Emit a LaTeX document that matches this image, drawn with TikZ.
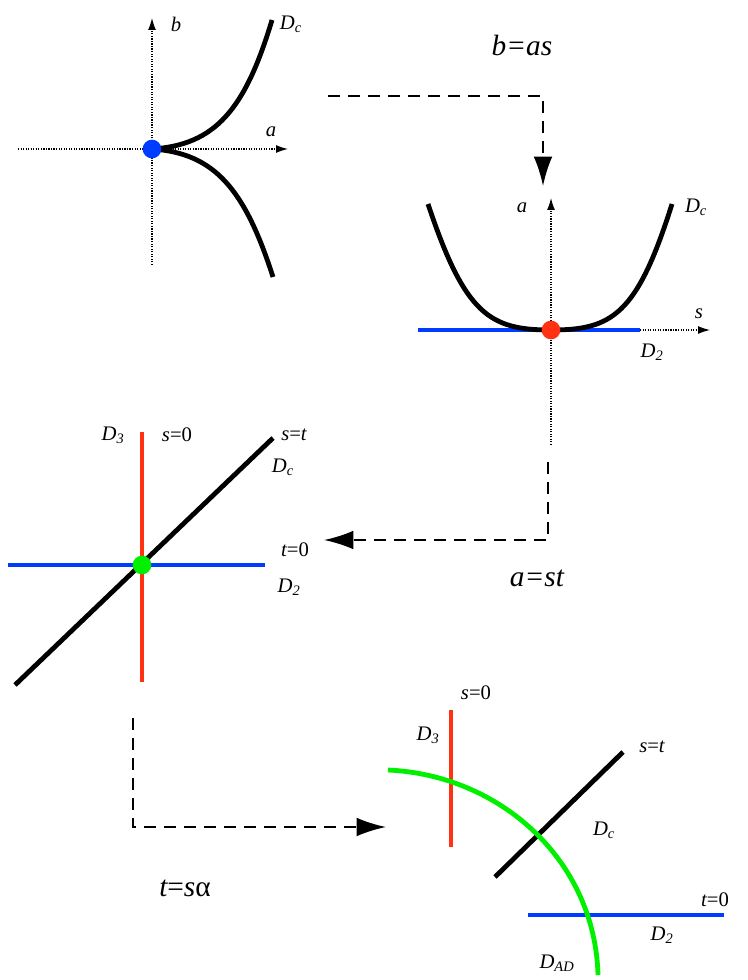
\documentclass[tikz,border=0pt]{standalone}
\usepackage{fontspec}
\setmainfont{Liberation Serif}
\usetikzlibrary{arrows.meta}
\begin{document}
\begin{tikzpicture}[x=0.75pt,y=-0.75pt,
 ax/.style={densely dotted,line width=0.9pt,-{Latex[length=9pt,width=6pt]}},
 cur/.style={line width=3.6pt},
 blu/.style={line width=3pt,draw={rgb,255:red,0;green,60;blue,255}},
 redl/.style={line width=3pt,draw={rgb,255:red,255;green,50;blue,20}},
 grn/.style={line width=3.6pt,draw={rgb,255:red,0;green,240;blue,0}},
 map/.style={dashed,dash pattern=on 9pt off 6pt,line width=1.5pt,-{Latex[length=22pt,width=14pt]}},
 lb/.style={font=\fontsize{15.5}{17}\selectfont\itshape,inner sep=1pt},
 big/.style={font=\fontsize{22}{24}\selectfont\itshape,inner sep=1pt},
 dot/.style={circle,inner sep=0pt,minimum size=14pt}]
\useasboundingbox (0,0) rectangle (747,980);
% panel 1
\coordinate (p1o) at (152,149);
\draw[ax] (152,265) -- (152,18);
\draw[ax] (18,149) -- (288,149);
\node[lb] (lb1) at (176,24) {b};
\node[lb] (la1) at (271,132) {a};
\node[lb] (ld1) at (291,24) {D\textsubscript{c}};
\draw[cur] (p1o) .. controls (215,145) and (245,110) .. (272,20);
\draw[cur] (p1o) .. controls (215,153) and (245,190) .. (273,277);
\node[dot,fill={rgb,255:red,0;green,60;blue,255}] (d1) at (p1o) {};
% map 1
\coordinate (m1a) at (328,96); \coordinate (m1b) at (543,96); \coordinate (m1c) at (543,186);
\draw[map] (m1a) -- (m1b) -- (m1c);
\node[big] (t1) at (522,45) {b=as};
% panel 2
\coordinate (p2o) at (551,330);
\draw[ax] (551,445) -- (551,198);
\draw[blu] (418,330) -- (640,330);
\draw[ax] (640,330) -- (710,330);
\node[lb] (la2) at (522,208) {a};
\node[lb] (ls2) at (699,314) {s};
\node[lb] (ld2) at (696,207) {D\textsubscript{c}};
\node[lb] (ldd2) at (652,352) {D\textsubscript{2}};
\draw[cur] (428,204) .. controls (465,315) and (490,330) .. (p2o) .. controls (612,330) and (637,315) .. (672,204);
\node[dot,fill={rgb,255:red,255;green,50;blue,20}] (d2) at (p2o) {};
% map 2
\coordinate (m2a) at (548,462); \coordinate (m2b) at (548,540); \coordinate (m2c) at (324,540);
\draw[map] (m2a) -- (m2b) -- (m2c);
\node[big] (t2) at (537,578) {a=st};
% panel 3
\draw[redl] (142,432) -- (142,682);
\draw[blu] (8,565) -- (265,565);
\draw[cur] (15,685) -- (273,438);
\node[dot,fill={rgb,255:red,0;green,240;blue,0}] (d3) at (142,565) {};
\node[lb] (l3a) at (113,435) {D\textsubscript{3}};
\node[lb] (l3b) at (177,435) {s\upshape=0};
\node[lb] (l3c) at (294,435) {s\upshape=\itshape t};
\node[lb] (l3d) at (283,467) {D\textsubscript{c}};
\node[lb] (l3e) at (295,550) {t\upshape=0};
\node[lb] (l3f) at (289,587) {D\textsubscript{2}};
% map 3
\coordinate (m3a) at (133,718); \coordinate (m3b) at (133,827); \coordinate (m3c) at (386,827);
\draw[map] (m3a) -- (m3b) -- (m3c);
\node[big] (t3) at (185,888) {t\upshape=\itshape s\upshape α};
% panel 4
\draw[redl] (451,710) -- (451,847);
\draw[cur] (495,877) -- (623,752);
\draw[blu] (528,915) -- (724,915);
\draw[grn] (388,770) .. controls (500,775) and (595,860) .. (598,975);
\node[lb] (l4a) at (476,693) {s\upshape=0};
\node[lb] (l4b) at (428,735) {D\textsubscript{3}};
\node[lb] (l4c) at (652,747) {s\upshape=\itshape t};
\node[lb] (l4d) at (604,830) {D\textsubscript{c}};
\node[lb] (l4e) at (715,900) {t\upshape=0};
\node[lb] (l4f) at (662,935) {D\textsubscript{2}};
\node[lb] (l4g) at (557,963) {D\textsubscript{AD}};
\end{tikzpicture}
\end{document}
